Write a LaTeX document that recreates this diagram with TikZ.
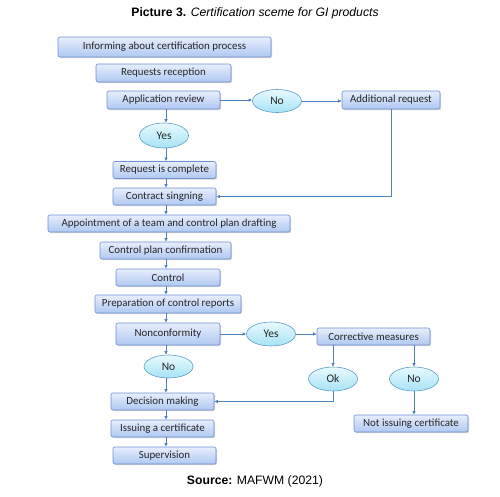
\documentclass[tikz,border=0pt]{standalone}
\usepackage{fontspec}
\setmainfont{Carlito}
\newfontfamily\arialfont{Liberation Sans}
\usetikzlibrary{shapes.geometric,shadows,arrows.meta}
\definecolor{boxtop}{HTML}{E6EEFC}
\definecolor{boxbot}{HTML}{AFC8F2}
\definecolor{boxline}{HTML}{6E90D0}
\definecolor{ovtop}{HTML}{E8FAFE}
\definecolor{ovbot}{HTML}{A6E2F6}
\definecolor{ovline}{HTML}{5E9CC8}
\definecolor{arrc}{HTML}{4F81BD}
\tikzset{
  box/.style={rectangle, rounded corners=2pt, draw=boxline, line width=0.6pt,
    top color=boxtop, bottom color=boxbot, inner sep=0pt,
    drop shadow={shadow xshift=1pt, shadow yshift=-1.2pt, opacity=0.35},
    font=\fontsize{10.9}{12}\selectfont, text=black!85},
  oval/.style={ellipse, draw=ovline, line width=0.6pt, top color=ovtop, bottom color=ovbot,
    inner sep=0pt, minimum width=49pt, minimum height=23pt,
    font=\fontsize{11.5}{12}\selectfont, text=black!85},
  arr/.style={-{Latex[length=3.5pt,width=3.5pt]}, draw=arrc, line width=0.6pt}
}
\begin{document}
\begin{tikzpicture}[x=1pt,y=-1pt]
\useasboundingbox (0,0) rectangle (500,496);
\coordinate (spine) at (166,0);
\node (title) at (255,13) {\arialfont\fontsize{12.2}{14}\selectfont\textbf{Picture 3.} \textit{Certification sceme for GI products}};
\node (source) at (255,481) {\arialfont\fontsize{12.2}{14}\selectfont\textbf{Source:} MAFWM (2021)};

\node[box, minimum width=213pt, minimum height=20pt] (info) at (164.5,47) {Informing about certification process};
\node[box, minimum width=135pt, minimum height=18pt] (reqrec) at (163.5,73) {Requests reception};
\node[box, minimum width=113pt, minimum height=18pt] (appl) at (163.5,100) {Application review};
\node[oval] (no1) at (277,101) {No};
\node[box, minimum width=98pt, minimum height=18pt] (addreq) at (391,100) {Additional request};
\node[oval, minimum height=25pt] (yes1) at (164,135.5) {Yes};
\node[box, minimum width=103pt, minimum height=17pt] (reqc) at (164.5,170) {Request is complete};
\node[box, minimum width=103pt, minimum height=17pt] (contract) at (164.5,196.5) {Contract singning};
\node[box, minimum width=242pt, minimum height=17pt] (appoint) at (169,223.5) {Appointment of a team and control plan drafting};
\node[box, minimum width=131pt, minimum height=17pt] (cpc) at (165.5,250.5) {Control plan confirmation};
\node[box, minimum width=104pt, minimum height=17pt] (control) at (168,277.5) {Control};
\node[box, minimum width=146pt, minimum height=18pt] (prep) at (168,304) {Preparation of control reports};
\node[box, minimum width=104pt, minimum height=22pt] (noncon) at (168,334) {Nonconformity};
\node[oval, minimum height=24pt] (yes2) at (271,334) {Yes};
\node[box, minimum width=113pt, minimum height=17pt] (corr) at (373.5,336.5) {Corrective measures};
\node[oval] (no2) at (168.5,366.5) {No};
\node[oval, minimum height=24pt] (ok) at (333,379) {Ok};
\node[oval, minimum height=24pt] (no3) at (414,379) {No};
\node[box, minimum width=103pt, minimum height=17pt] (decision) at (162.5,401.5) {Decision making};
\node[box, minimum width=103pt, minimum height=17pt] (issue) at (162.5,428.5) {Issuing a certificate};
\node[box, minimum width=103pt, minimum height=17pt] (superv) at (164.5,455.5) {Supervision};
\node[box, minimum width=114pt, minimum height=17pt] (notissue) at (411,423.5) {Not issuing certificate};

\draw[arr] (appl.south -| spine) -- (yes1.north -| spine);
\draw[arr] (yes1.south -| spine) -- (reqc.north -| spine);
\draw[arr] (reqc.south -| spine) -- (contract.north -| spine);
\draw[arr] (contract.south -| spine) -- (appoint.north -| spine);
\draw[arr] (appoint.south -| spine) -- (cpc.north -| spine);
\draw[arr] (cpc.south -| spine) -- (control.north -| spine);
\draw[arr] (control.south -| spine) -- (prep.north -| spine);
\draw[arr] (prep.south -| spine) -- (noncon.north -| spine);
\draw[arr] (noncon.south -| spine) -- (no2.north -| spine);
\draw[arr] (no2.south -| spine) -- (decision.north -| spine);
\draw[arr] (decision.south -| spine) -- (issue.north -| spine);
\draw[arr] (issue.south -| spine) -- (superv.north -| spine);

\draw[arr] (appl.east) -- (appl.east -| no1.west);
\draw[arr] (no1.east) -- (no1.east -| addreq.west);
\draw[arr] (addreq.south) |- (contract.east);
\draw[arr] (noncon.east) -- (noncon.east -| yes2.west);
\draw[arr] (yes2.east) -- (yes2.east -| corr.west);
\draw[arr] (corr.south -| ok) -- (ok.north);
\draw[arr] (corr.south -| no3) -- (no3.north);
\draw[arr] (ok.south) |- (decision.east);
\draw[arr] (no3.south) -- (no3.south |- notissue.north);
\end{tikzpicture}
\end{document}
